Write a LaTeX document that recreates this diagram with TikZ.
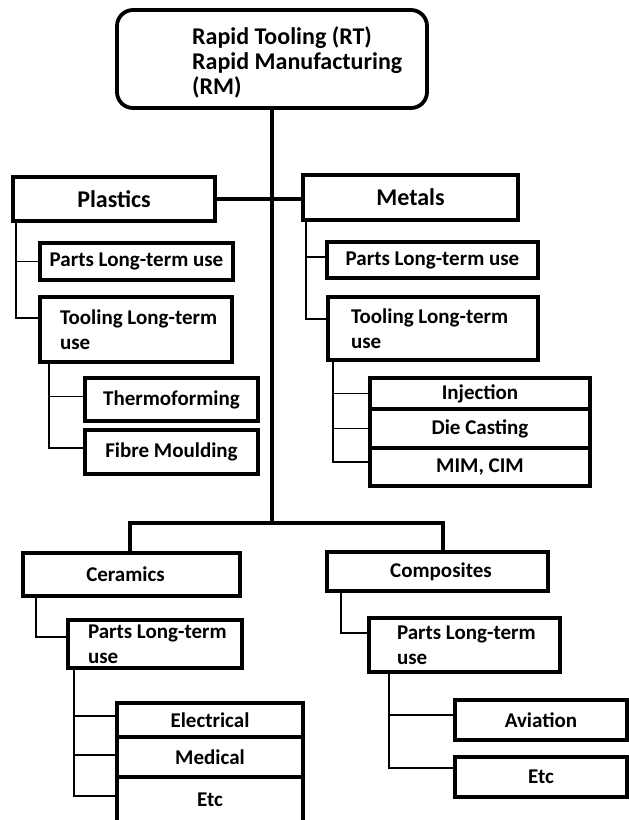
\documentclass[tikz,border=0pt]{standalone}
\usepackage{fontspec}
\setmainfont{Carlito}
\begin{document}
\begin{tikzpicture}[x=1pt,y=-1pt,
  box/.style={draw, line width=3.8pt, rectangle, outer sep=0pt, inner sep=0pt,
    font=\fontsize{21}{25}\selectfont\bfseries},
  bigbox/.style={box, font=\fontsize{24}{25}\selectfont\bfseries},
  lbox/.style={box, align=left, inner xsep=#1, execute at begin node={\spaceskip=0pt\xspaceskip=0pt}},
  main/.style={line width=4pt},
  conn/.style={line width=1.5pt}
]
\useasboundingbox (0,0) rectangle (629,820);
\fill[white] (0,0) rectangle (629,820);

% top
\node[box, rounded corners=16pt, minimum width=310, minimum height=98] (top) at (272,59) {};
\node[anchor=west, align=left, inner sep=0pt, font=\fontsize{24}{25}\selectfont\bfseries,
  execute at begin node={\spaceskip=0pt\xspaceskip=0pt}] (toptext) at (192,62)
  {Rapid Tooling (RT)\\Rapid Manufacturing\\(RM)};

% plastics branch
\node[bigbox, minimum width=202, minimum height=44] (plastics) at (114,199) {Plastics};
\node[box, minimum width=193, minimum height=37] (pparts) at (136.5,261.5) {Parts Long-term use};
\node[lbox=20pt, text width=152pt, minimum height=65] (ptool) at (136,329.5) {\mbox{Tooling Long-term}\\use};
\node[box, minimum width=173, minimum height=43] (thermo) at (171.5,399.5) {Thermoforming};
\node[box, minimum width=173, minimum height=44] (fibre) at (171.5,452) {Fibre Moulding};

% metals branch
\node[bigbox, minimum width=215, minimum height=45] (metals) at (410.5,197.5) {Metals};
\node[box, minimum width=211, minimum height=36] (mparts) at (432.5,260) {Parts Long-term use};
\node[lbox=23pt, text width=164pt, minimum height=63] (mtool) at (433,328.5) {\mbox{Tooling Long-term}\\use};
\node[box, minimum width=220, minimum height=31] (inj) at (480,393.5) {Injection};
\node[box, minimum width=220, minimum height=39] (die) at (480,428.5) {Die Casting};
\node[box, minimum width=220, minimum height=38] (mim) at (480,467) {MIM, CIM};

% ceramics branch
\node[box, minimum width=217, minimum height=43] (ceramics) at (131.5,574.5) {\hspace*{-12pt}Ceramics};
\node[lbox=20pt, text width=134pt, minimum height=48] (cparts) at (155,644) {\mbox{Parts Long-term}\\use};
\node[box, minimum width=186, minimum height=34] (elec) at (210,720) {Electrical};
\node[box, minimum width=186, minimum height=40] (med) at (210,757) {Medical};
\node[box, minimum width=186, minimum height=45] (etca) at (210,799.5) {Etc};

% composites branch
\node[box, minimum width=221, minimum height=39] (composites) at (437.5,571.5) {\hspace*{7pt}Composites};
\node[lbox=28pt, text width=135pt, minimum height=54] (coparts) at (464.5,645) {\mbox{Parts Long-term}\\use};
\node[box, minimum width=172, minimum height=40] (aviation) at (541,720) {Aviation};
\node[box, minimum width=172, minimum height=40] (etcb) at (541,777) {Etc};

% main connectors
\coordinate (hub) at (272,523);
\draw[main] (top.south) -- (hub);
\draw[main] (plastics.east) -- (plastics.east -| metals.west);
\draw[main] ([xshift=-1.5pt]ceramics.north) |- (hub) -| ([xshift=5.5pt]composites.north);

% plastics children
\draw[conn] ([xshift=3pt]plastics.south west) |- (pparts.west);
\draw[conn] ([xshift=3pt]plastics.south west) |- ([yshift=-21pt]ptool.north west);
\draw[conn] ([xshift=9pt]ptool.south west) |- ([yshift=3pt]thermo.west);
\draw[conn] ([xshift=9pt]ptool.south west) |- ([yshift=4pt]fibre.west);

% metals children
\draw[conn] ([xshift=3pt]metals.south west) |- ([yshift=3pt]mparts.west);
\draw[conn] ([xshift=3pt]metals.south west) |- ([yshift=-22pt]mtool.north west);
\draw[conn] ([xshift=5pt]mtool.south west) |- (inj.west);
\draw[conn] ([xshift=5pt]mtool.south west) |- (die.west);
\draw[conn] ([xshift=5pt]mtool.south west) |- ([yshift=5pt]mim.west);

% ceramics children
\draw[conn] ([xshift=13pt]ceramics.south west) |- ([yshift=-17pt]cparts.north west);
\draw[conn] ([xshift=6pt]cparts.south west) |- ([yshift=4pt]elec.west);
\draw[conn] ([xshift=6pt]cparts.south west) |- ([yshift=2pt]med.west);
\draw[conn] ([xshift=6pt]cparts.south west) |- ([yshift=-19pt]etca.north west);

% composites children
\draw[conn] ([xshift=14pt]composites.south west) |- ([yshift=-15pt]coparts.north west);
\draw[conn] ([xshift=20pt]coparts.south west) |- ([yshift=-15pt]aviation.north west);
\draw[conn] ([xshift=20pt]coparts.south west) |- ([yshift=-11pt]etcb.north west);
\end{tikzpicture}
\end{document}
